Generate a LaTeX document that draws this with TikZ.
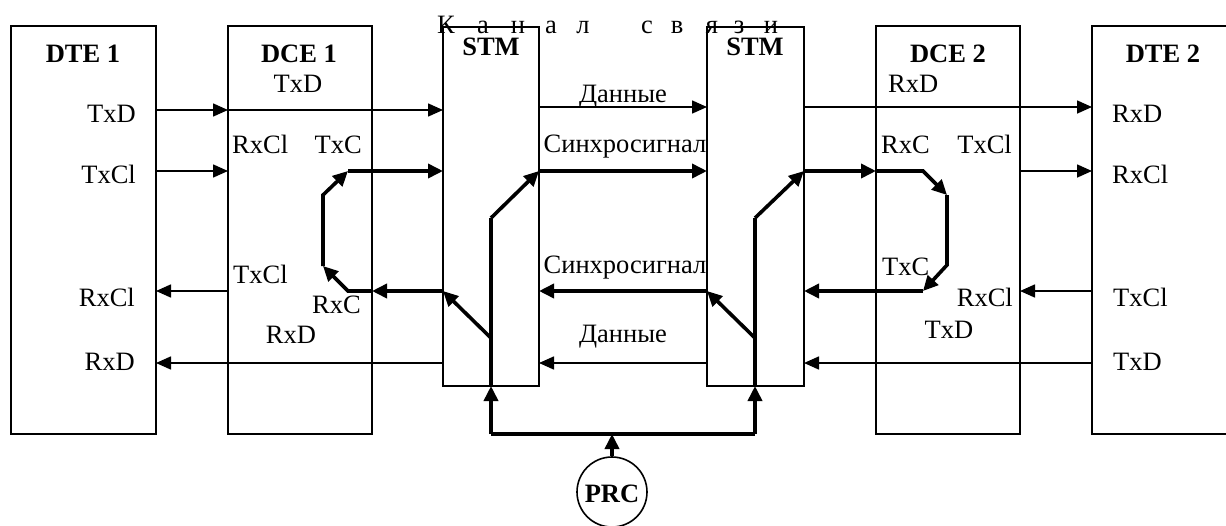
\documentclass[tikz,border=0pt]{standalone}
\usepackage{fontspec}
\setmainfont{Liberation Serif}
\usetikzlibrary{arrows.meta}
\begin{document}
\begin{tikzpicture}[x=1pt,y=-1pt,
  box/.style={draw,line width=1.6pt,inner sep=0pt,outer sep=0pt,anchor=north west},
  sigthin/.style={line width=1.6pt,-{Triangle[length=15pt,width=13pt]}},
  sigthick/.style={line width=3.6pt,-{Triangle[length=15pt,width=14pt]}},
  plainthick/.style={line width=3.6pt},
  txt/.style={font=\fontsize{26.5}{31}\selectfont,inner sep=0pt,anchor=base},
  ttl/.style={font=\fontsize{26.5}{31}\selectfont\bfseries,inner sep=0pt,anchor=base}]
\useasboundingbox (0,0) rectangle (1226,525);
% boxes
\node[box,minimum width=145pt,minimum height=408pt] (dte1) at (11,26) {};
\node[box,minimum width=144pt,minimum height=408pt] (dce1) at (228,26) {};
\node[box,minimum width=96pt,minimum height=359pt] (stm1) at (443,27) {};
\node[box,minimum width=97pt,minimum height=359pt] (stm2) at (707,27) {};
\node[box,minimum width=144pt,minimum height=408pt] (dce2) at (876,26) {};
\node[box,minimum width=200pt,minimum height=408pt] (dte2) at (1092,26) {};
\node[draw,circle,line width=1.6pt,minimum size=70pt,inner sep=0pt] (prc) at (612,492) {};
\node[ttl] (prct) at (612,502) {PRC};
% title letters
\foreach \ch/\xx [count=\i] in {К/446,а/483,н/518,а/551,л/583,с/647,в/677,я/712,з/739,и/771}
  \node[txt] (k\i) at (\xx,33) {\ch};
% box titles
\node[ttl] (tdte1) at (83,62) {DTE 1};
\node[ttl] (tdce1) at (299,62) {DCE 1};
\node[ttl] (tstm1) at (491,55) {STM};
\node[ttl] (tstm2) at (755,55) {STM};
\node[ttl] (tdce2) at (948,62) {DCE 2};
\node[ttl] (tdte2) at (1163,62) {DTE 2};
% DTE1 labels
\node[txt,anchor=base east] (a1) at (136,122) {TxD};
\node[txt,anchor=base east] (a2) at (136,183) {TxCl};
\node[txt,anchor=base east] (a3) at (135,306) {RxCl};
\node[txt,anchor=base east] (a4) at (135,370) {RxD};
% DCE1 labels
\node[txt] (b1) at (298,92) {TxD};
\node[txt,anchor=base west] (b2) at (232,153) {RxCl};
\node[txt,anchor=base east] (b3) at (362,153) {TxC};
\node[txt,anchor=base west] (b4) at (233,283) {TxCl};
\node[txt,anchor=base east] (b5) at (361,313) {RxC};
\node[txt] (b6) at (291,343) {RxD};
% channel labels
\node[txt] (c1) at (623,102) {Данные};
\node[txt] (c2) at (625,152) {Синхросигнал};
\node[txt] (c3) at (625,273) {Синхросигнал};
\node[txt] (c4) at (623,342) {Данные};
% DCE2 labels
\node[txt,anchor=base west] (d1) at (888,92) {RxD};
\node[txt,anchor=base west] (d2) at (881,153) {RxC};
\node[txt,anchor=base east] (d3) at (1012,153) {TxCl};
\node[txt,anchor=base west] (d4) at (882,275) {TxC};
\node[txt,anchor=base east] (d5) at (1013,306) {RxCl};
\node[txt] (d6) at (949,338) {TxD};
% DTE2 labels
\node[txt,anchor=base west] (e1) at (1112,122) {RxD};
\node[txt,anchor=base west] (e2) at (1112,183) {RxCl};
\node[txt,anchor=base west] (e3) at (1113,306) {TxCl};
\node[txt,anchor=base west] (e4) at (1113,370) {TxD};
% loop corner coordinates
\coordinate (l1) at (348,171);
\coordinate (l2) at (323,195);
\coordinate (l3) at (323,266);
\coordinate (l4) at (348,291);
\coordinate (r1) at (923,171);
\coordinate (r2) at (947,195);
\coordinate (r3) at (947,265);
\coordinate (r4) at (923,291);
\coordinate (s1t) at (491,218);
\coordinate (s1m) at (491,338);
\coordinate (s2t) at (755,218);
\coordinate (s2m) at (755,338);
\coordinate (bus1) at (491,434);
\coordinate (bus2) at (755,434);
\coordinate (busm) at (612,434);
% upper thin lines
\draw[sigthin] (dte1.east |- 0,110) -- (dce1.west |- 0,110);
\draw[sigthin] (dce1.west |- 0,110) -- (stm1.west |- 0,110);
\draw[sigthin] (stm1.east |- 0,107) -- (stm2.west |- 0,107);
\draw[sigthin] (stm2.east |- 0,107) -- (dte2.west |- 0,107);
\draw[sigthin] (dte1.east |- 0,171) -- (dce1.west |- 0,171);
\draw[sigthin] (dce2.east |- 0,171) -- (dte2.west |- 0,171);
% lower thin lines
\draw[sigthin] (dce1.west |- 0,291) -- (dte1.east |- 0,291);
\draw[sigthin] (stm1.west |- 0,363) -- (dte1.east |- 0,363);
\draw[sigthin] (stm2.west |- 0,363) -- (stm1.east |- 0,363);
\draw[sigthin] (dte2.west |- 0,363) -- (stm2.east |- 0,363);
\draw[sigthin] (dte2.west |- 0,291) -- (dce2.east |- 0,291);
% thick sync lines
\draw[sigthick] (l1) -- (stm1.west |- l1);
\draw[sigthick] (stm1.east |- l1) -- (stm2.west |- l1);
\draw[sigthick] (stm2.east |- l1) -- (dce2.west |- l1);
\draw[sigthick] (dce2.west |- l1) -- (r1) -- (r2);
\draw[sigthick] (r2) -- (r3) -- (r4);
\draw[sigthick] (r4) -- (stm2.east |- r4);
\draw[sigthick] (stm2.west |- r4) -- (stm1.east |- r4);
\draw[sigthick] (stm1.west |- r4) -- (dce1.east |- r4);
\draw[sigthick] (dce1.east |- r4) -- (l4) -- (l3);
\draw[sigthick] (l3) -- (l2) -- (l1);
% STM internals
\draw[plainthick] (stm1.south -| bus1) -- (s1t);
\draw[sigthick] (s1t) -- (stm1.east |- l1);
\draw[sigthick] (s1m) -- (stm1.west |- r4);
\draw[plainthick] (stm2.south -| bus2) -- (s2t);
\draw[sigthick] (s2t) -- (stm2.east |- l1);
\draw[sigthick] (s2m) -- (stm2.west |- r4);
% PRC bus
\draw[plainthick,line join=miter] (bus1) -- (bus2);
\draw[sigthick] (bus1) -- (stm1.south -| bus1);
\draw[sigthick] (bus2) -- (stm2.south -| bus2);
\draw[sigthick] (prc.north) -- (busm);
\end{tikzpicture}
\end{document}
